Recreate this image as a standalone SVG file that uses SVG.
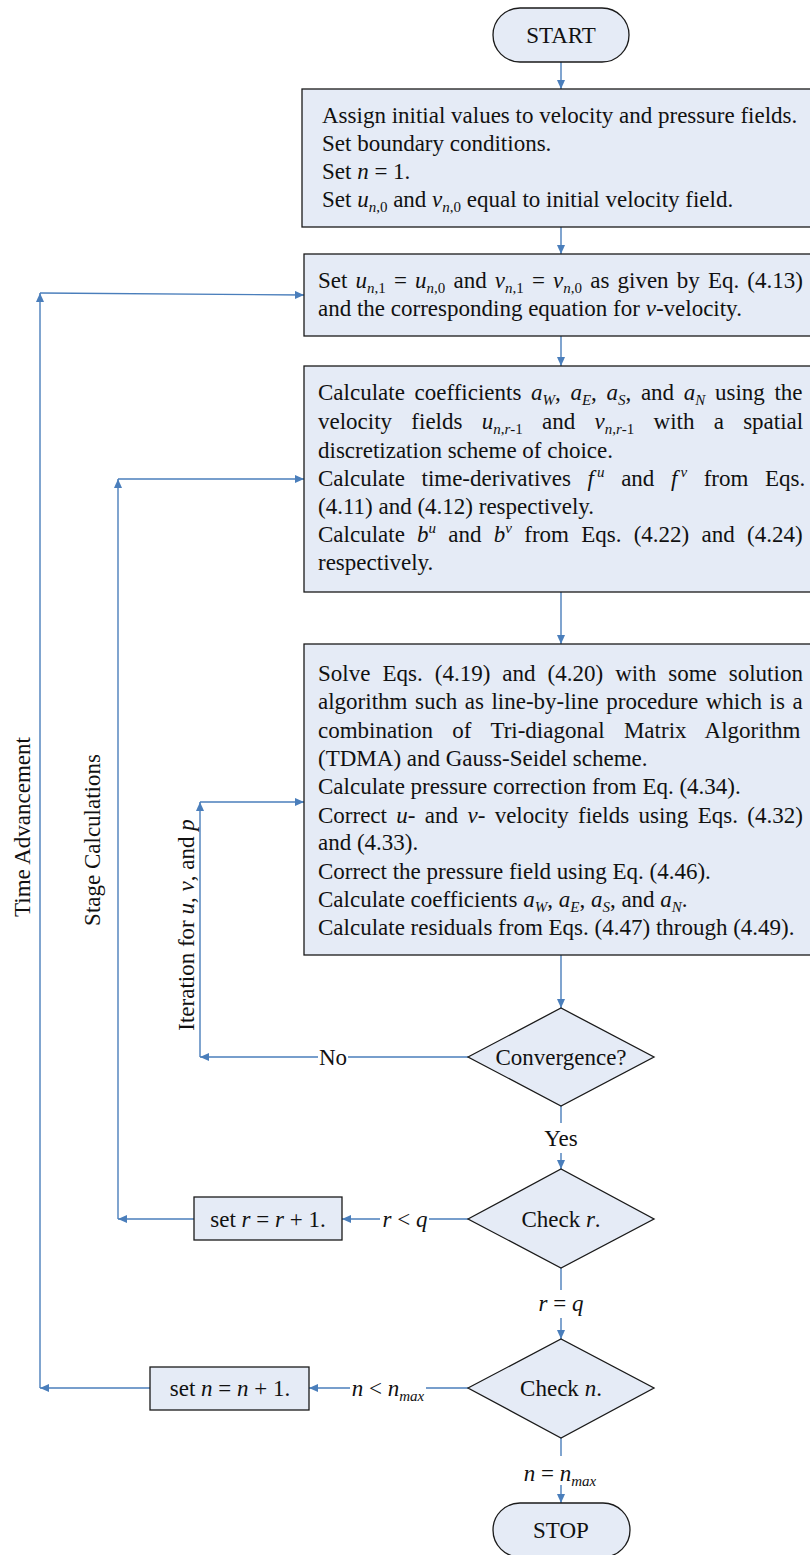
<svg xmlns="http://www.w3.org/2000/svg" width="810" height="1555" viewBox="0 0 810 1555">
<style>
.t{font-family:"Liberation Serif","Times New Roman",serif;font-size:23px;fill:#111}
.i{font-style:italic}
.s{font-size:15px}
.box{fill:#E5EBF6;stroke:#1a1a1a;stroke-width:1.3}
.ln{stroke:#4A7EBB;stroke-width:1.4;fill:none}
.mid{text-anchor:middle}
</style>
<defs>
<marker id="ah" viewBox="0 0 9 8" refX="9" refY="4" markerWidth="9" markerHeight="8" markerUnits="userSpaceOnUse" orient="auto">
<path d="M0,0 L9,4 L0,8 z" fill="#4A7EBB"/>
</marker>
</defs>
<rect width="810" height="1555" fill="#fff"/>

<g id="connectors">
<path class="ln" d="M561,62 V89" marker-end="url(#ah)"/>
<path class="ln" d="M561,227 V254" marker-end="url(#ah)"/>
<path class="ln" d="M561,336 V366" marker-end="url(#ah)"/>
<path class="ln" d="M561,592 V644" marker-end="url(#ah)"/>
<path class="ln" d="M561,955 V1008" marker-end="url(#ah)"/>
<path class="ln" d="M468,1057 H348"/>
<path class="ln" d="M318,1057 H200" marker-end="url(#ah)"/>
<path class="ln" d="M200,1057 V802" marker-end="url(#ah)"/>
<path class="ln" d="M200,802 H304" marker-end="url(#ah)"/>
<path class="ln" d="M561,1106 V1123"/>
<path class="ln" d="M561,1153 V1169" marker-end="url(#ah)"/>
<path class="ln" d="M468,1219 H429"/>
<path class="ln" d="M380,1219 H342" marker-end="url(#ah)"/>
<path class="ln" d="M194,1219 H118" marker-end="url(#ah)"/>
<path class="ln" d="M118,1219 V479" marker-end="url(#ah)"/>
<path class="ln" d="M118,479 H304" marker-end="url(#ah)"/>
<path class="ln" d="M561,1268 V1290"/>
<path class="ln" d="M561,1318 V1339" marker-end="url(#ah)"/>
<path class="ln" d="M468,1388 H426"/>
<path class="ln" d="M350,1388 H309" marker-end="url(#ah)"/>
<path class="ln" d="M150,1388 H40" marker-end="url(#ah)"/>
<path class="ln" d="M40,1388 V293" marker-end="url(#ah)"/>
<path class="ln" d="M40,293 L304,295" marker-end="url(#ah)"/>
<path class="ln" d="M561,1438 V1456"/>
<path class="ln" d="M561,1485 V1503" marker-end="url(#ah)"/>
<text class="t mid" x="333" y="1065">No</text>
<text class="t mid" x="561" y="1146">Yes</text>
<text class="t mid" x="405" y="1227"><tspan class="i">r</tspan> &lt; <tspan class="i">q</tspan></text>
<text class="t mid" x="561" y="1311"><tspan class="i">r</tspan> = <tspan class="i">q</tspan></text>
<text class="t mid" x="388" y="1396"><tspan class="i">n</tspan> &lt; <tspan class="i">n</tspan><tspan class="s i" dy="5">max</tspan></text>
<text class="t mid" x="560" y="1481"><tspan class="i">n</tspan> = <tspan class="i">n</tspan><tspan class="s i" dy="5">max</tspan></text>
<text class="t mid" transform="translate(30,827) rotate(-90)">Time Advancement</text>
<text class="t mid" transform="translate(100,840) rotate(-90)">Stage Calculations</text>
<text class="t mid" transform="translate(194,925) rotate(-90)">Iteration for <tspan class="i">u</tspan>, <tspan class="i">v</tspan>, and <tspan class="i">p</tspan></text>
</g>

<g id="start">
<rect class="box" x="493" y="8" width="136" height="54" rx="27" ry="27"/>
<text class="t mid" x="561" y="43">START</text>
</g>

<g id="init">
<rect class="box" x="302" y="89" width="515" height="138"/>
<text class="t" x="322" y="123">Assign initial values to velocity and pressure fields.</text>
<text class="t" x="322" y="151">Set boundary conditions.</text>
<text class="t" x="322" y="179">Set <tspan class="i">n</tspan> = 1.</text>
<text class="t" x="322" y="207">Set <tspan class="i">u</tspan><tspan class="s" dy="5"><tspan class="i">n</tspan>,0</tspan><tspan dy="-5"> and </tspan><tspan class="i">v</tspan><tspan class="s" dy="5"><tspan class="i">n</tspan>,0</tspan><tspan dy="-5"> equal to initial velocity field.</tspan></text>
</g>

<g id="stage-init">
<rect class="box" x="304" y="254" width="513" height="82"/>
<text class="t" x="318" y="288" style="word-spacing:2.4px">Set <tspan class="i">u</tspan><tspan class="s" dy="5"><tspan class="i">n</tspan>,1</tspan><tspan dy="-5"> = </tspan><tspan class="i">u</tspan><tspan class="s" dy="5"><tspan class="i">n</tspan>,0</tspan><tspan dy="-5"> and </tspan><tspan class="i">v</tspan><tspan class="s" dy="5"><tspan class="i">n</tspan>,1</tspan><tspan dy="-5"> = </tspan><tspan class="i">v</tspan><tspan class="s" dy="5"><tspan class="i">n</tspan>,0</tspan><tspan dy="-5"> as given by Eq. (4.13)</tspan></text>
<text class="t" x="318" y="316">and the corresponding equation for <tspan class="i">v</tspan>-velocity.</text>
</g>

<g id="coefficients">
<rect class="box" x="304" y="366" width="513" height="226"/>
<text class="t" x="318" y="400" style="word-spacing:3.9px">Calculate coefficients <tspan class="i">a</tspan><tspan class="s i" dy="5">W</tspan><tspan dy="-5">, </tspan><tspan class="i">a</tspan><tspan class="s i" dy="5">E</tspan><tspan dy="-5">, </tspan><tspan class="i">a</tspan><tspan class="s i" dy="5">S</tspan><tspan dy="-5">, and </tspan><tspan class="i">a</tspan><tspan class="s i" dy="5">N</tspan><tspan dy="-5"> using the</tspan></text>
<text class="t" x="318" y="429" style="word-spacing:13.5px">velocity fields <tspan class="i">u</tspan><tspan class="s" dy="5"><tspan class="i">n</tspan>,<tspan class="i">r</tspan>-1</tspan><tspan dy="-5"> and </tspan><tspan class="i">v</tspan><tspan class="s" dy="5"><tspan class="i">n</tspan>,<tspan class="i">r</tspan>-1</tspan><tspan dy="-5"> with a spatial</tspan></text>
<text class="t" x="318" y="458">discretization scheme of choice.</text>
<text class="t" x="318" y="486" style="word-spacing:10.9px">Calculate time-derivatives <tspan class="i">f</tspan><tspan class="s i" dx="3" dy="-9">u</tspan><tspan dy="9"> and </tspan><tspan class="i">f</tspan><tspan class="s i" dx="3" dy="-9">v</tspan><tspan dy="9"> from Eqs.</tspan></text>
<text class="t" x="318" y="514">(4.11) and (4.12) respectively.</text>
<text class="t" x="318" y="542" style="word-spacing:6.5px">Calculate <tspan class="i">b</tspan><tspan class="s i" dy="-9">u</tspan><tspan dy="9"> and </tspan><tspan class="i">b</tspan><tspan class="s i" dy="-9">v</tspan><tspan dy="9"> from Eqs. (4.22) and (4.24)</tspan></text>
<text class="t" x="318" y="570">respectively.</text>
</g>

<g id="solve">
<rect class="box" x="304" y="644" width="513" height="311"/>
<text class="t" x="318" y="681" style="word-spacing:6.3px">Solve Eqs. (4.19) and (4.20) with some solution</text>
<text class="t" x="318" y="709" style="word-spacing:1.8px">algorithm such as line-by-line procedure which is a</text>
<text class="t" x="318" y="738" style="word-spacing:13.6px">combination of Tri-diagonal Matrix Algorithm</text>
<text class="t" x="318" y="766">(TDMA) and Gauss-Seidel scheme.</text>
<text class="t" x="318" y="794">Calculate pressure correction from Eq. (4.34).</text>
<text class="t" x="318" y="823" style="word-spacing:3.6px">Correct <tspan class="i">u</tspan>- and <tspan class="i">v</tspan>- velocity fields using Eqs. (4.32)</text>
<text class="t" x="318" y="850">and (4.33).</text>
<text class="t" x="318" y="879">Correct the pressure field using Eq. (4.46).</text>
<text class="t" x="318" y="907">Calculate coefficients <tspan class="i">a</tspan><tspan class="s i" dy="5">W</tspan><tspan dy="-5">, </tspan><tspan class="i">a</tspan><tspan class="s i" dy="5">E</tspan><tspan dy="-5">, </tspan><tspan class="i">a</tspan><tspan class="s i" dy="5">S</tspan><tspan dy="-5">, and </tspan><tspan class="i">a</tspan><tspan class="s i" dy="5">N</tspan><tspan dy="-5">.</tspan></text>
<text class="t" x="318" y="935">Calculate residuals from Eqs. (4.47) through (4.49).</text>
</g>

<g id="convergence">
<polygon class="box" points="468,1057 561,1008 654,1057 561,1106"/>
<text class="t mid" x="561" y="1065">Convergence?</text>
</g>

<g id="check-r">
<polygon class="box" points="468,1219 561,1169 654,1219 561,1268"/>
<text class="t mid" x="561" y="1227">Check <tspan class="i">r</tspan>.</text>
</g>

<g id="set-r">
<rect class="box" x="194" y="1197" width="148" height="43"/>
<text class="t mid" x="268" y="1227">set <tspan class="i">r</tspan> = <tspan class="i">r</tspan> + 1.</text>
</g>

<g id="check-n">
<polygon class="box" points="468,1388 561,1339 654,1388 561,1438"/>
<text class="t mid" x="561" y="1396">Check <tspan class="i">n</tspan>.</text>
</g>

<g id="set-n">
<rect class="box" x="150" y="1367" width="159" height="43"/>
<text class="t mid" x="230" y="1396">set <tspan class="i">n</tspan> = <tspan class="i">n</tspan> + 1.</text>
</g>

<g id="stop">
<rect class="box" x="493" y="1503" width="137" height="54" rx="27" ry="27"/>
<text class="t mid" x="561" y="1538">STOP</text>
</g>
</svg>
